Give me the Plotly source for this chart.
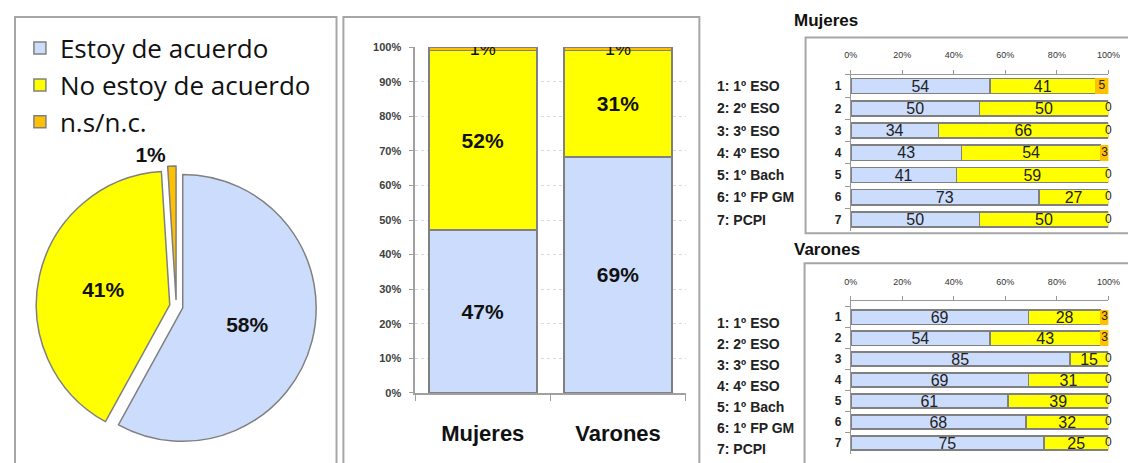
import plotly.graph_objects as go
import numpy as np

W, H = 1136, 463
OFF = 8  # page body margin offset

# ---------------- data ----------------
pie_labels = ["Estoy de acuerdo", "No estoy de acuerdo", "n.s/n.c."]
pie_values = [58, 41, 1]

sex_cats = ["Mujeres", "Varones"]
sex_acuerdo = [47, 69]
sex_no = [52, 31]
sex_nsnc = [1, 1]

course_ids = ["1", "2", "3", "4", "5", "6", "7"]
course_names = ["1: 1º ESO", "2: 2º ESO", "3: 3º ESO", "4: 4º ESO",
                "5: 1º Bach", "6: 1º FP GM", "7: PCPI"]
muj_acuerdo = [54, 50, 34, 43, 41, 73, 50]
muj_no = [41, 50, 66, 54, 59, 27, 50]
muj_nsnc = [5, 0, 0, 3, 0, 0, 0]
var_acuerdo = [69, 54, 85, 69, 61, 68, 75]
var_no = [28, 43, 15, 31, 39, 32, 25]
var_nsnc = [3, 3, 0, 0, 0, 0, 0]

pct_ticks_10 = list(range(0, 101, 10))
pct_labels_10 = [f"{v}%" for v in pct_ticks_10]
pct_ticks_20 = list(range(0, 101, 20))
pct_labels_20 = [f"{v}%" for v in pct_ticks_20]

# ---------------- styles ----------------
BLUE = "#CBDCFC"
YELLOW = "#FFFF00"
ORANGE = "#FFC000"
EDGE = "#808080"
FRAME = "#A6A6A6"
FONT = "Liberation Sans"
colors = [BLUE, YELLOW, ORANGE]


def px(x):
    return (x - OFF) / W


def py(y):
    return 1 - (y - OFF) / H


fig = go.Figure()

# ---------------- pie ----------------
PULL = 0.05
pie_cx, pie_cy, pie_r = 172, 308, 137
half = pie_r * (1 + PULL)
fig.add_trace(go.Pie(
    labels=pie_labels, values=pie_values, sort=False,
    direction="clockwise", rotation=0,
    pull=[PULL, PULL, PULL],
    marker=dict(colors=colors, line=dict(color=EDGE, width=1.5)),
    texttemplate="%{value}%",
    textposition=["inside", "inside", "outside"],
    insidetextorientation="horizontal",
    textfont=dict(family=FONT, size=21, color="#111", weight="bold"),
    domain=dict(x=[px(pie_cx - half), px(pie_cx + half)],
                y=[py(pie_cy + half), py(pie_cy - half)]),
    hoverinfo="skip", showlegend=True,
))

# ---------------- middle stacked bars ----------------
mid_series = [sex_acuerdo, sex_no, sex_nsnc]
for i, vals in enumerate(mid_series):
    is_small = (i == 2)
    fig.add_trace(go.Bar(
        x=sex_cats, y=vals, xaxis="x", yaxis="y",
        width=0.8,
        marker=dict(color=colors[i], line=dict(color=EDGE, width=1.8)),
        text=[f"{v}%" for v in vals],
        textposition="inside", insidetextanchor="middle",
        constraintext="none", textangle=0,
        textfont=dict(family=FONT, size=18 if is_small else 21,
                      color="#111", weight="normal" if is_small else "bold"),
        showlegend=False, hoverinfo="skip",
    ))


# ---------------- right horizontal bars ----------------
def add_hbars(a, n, o, xa, ya):
    for i, vals in enumerate([a, n]):
        fig.add_trace(go.Bar(
            y=course_ids, x=vals, orientation="h", xaxis=xa, yaxis=ya,
            width=0.68,
            marker=dict(color=colors[i], line=dict(color=EDGE, width=1.5)),
            text=[str(v) for v in vals],
            textposition="inside", insidetextanchor="middle",
            constraintext="none", textangle=0,
            textfont=dict(family=FONT, size=16, color="#222"),
            showlegend=False, hoverinfo="skip",
        ))
    fig.add_trace(go.Bar(
        y=course_ids, x=o, orientation="h", xaxis=xa, yaxis=ya,
        width=0.68,
        marker=dict(color=ORANGE, line=dict(color=ORANGE, width=1)),
        showlegend=False, hoverinfo="skip",
    ))
    pos = np.array(a) + np.array(n) + np.array(o) / 2
    fig.add_trace(go.Scatter(
        y=course_ids, x=pos, mode="text", xaxis=xa, yaxis=ya,
        text=[str(v) for v in o], textposition="middle center",
        textfont=dict(family=FONT, size=12, color="#222"),
        cliponaxis=False, showlegend=False, hoverinfo="skip",
    ))


add_hbars(muj_acuerdo, muj_no, muj_nsnc, "x2", "y2")
add_hbars(var_acuerdo, var_no, var_nsnc, "x3", "y3")

# ---------------- axes ----------------
hx = dict(range=[0, 100], side="top", tickvals=pct_ticks_20,
          ticktext=pct_labels_20,
          showline=True, linecolor="#999", linewidth=1, ticks="outside",
          ticklen=4, tickcolor="#999", showgrid=False, zeroline=False,
          tickfont=dict(family=FONT, size=9, color="#333"),
          ticklabelstandoff=8, fixedrange=True)
hy = dict(type="category", categoryarray=course_ids, autorange="reversed",
          showline=True, linecolor="#999", linewidth=1, ticks="outside",
          tickson="boundaries", ticklen=5, tickcolor="#999",
          showgrid=False, zeroline=False,
          tickfont=dict(family=FONT, size=12, color="#222", weight="bold"),
          ticklabelstandoff=6, fixedrange=True)

fig.update_layout(
    width=W, height=H,
    margin=dict(l=0, r=0, t=0, b=0),
    paper_bgcolor="white", plot_bgcolor="white",
    barmode="stack", barnorm="percent",
    font=dict(family=FONT),
    xaxis=dict(domain=[px(415), px(690)], type="category",
               showline=True, linecolor="#A0A0A0", linewidth=1.5,
               ticks="outside", tickson="boundaries", ticklen=6,
               tickcolor="#A0A0A0", showgrid=False,
               tickfont=dict(family=FONT, size=22, color="#111",
                             weight="bold"),
               ticklabelstandoff=20, fixedrange=True),
    yaxis=dict(domain=[py(397), py(42)], range=[0, 100],
               tickvals=pct_ticks_10, ticktext=pct_labels_10,
               showline=True, linecolor="#A0A0A0", linewidth=1.5,
               ticks="outside", ticklen=4, tickcolor="#A0A0A0",
               showgrid=True, gridcolor="#D9D9D9", griddash="dot",
               zeroline=False,
               tickfont=dict(family=FONT, size=11, color="#404040",
                             weight="bold"),
               ticklabelstandoff=6, fixedrange=True),
    xaxis2=dict(hx, domain=[px(858), px(1120)], anchor="y2"),
    yaxis2=dict(hy, domain=[py(230.4), py(70.6)], anchor="x2"),
    xaxis3=dict(hx, domain=[px(858), px(1120)], anchor="y3"),
    yaxis3=dict(hy, domain=[py(459.2), py(302.8)], anchor="x3"),
    legend=dict(x=px(13), y=py(19), xanchor="left", yanchor="top",
                traceorder="normal",
                font=dict(family="Open Sans", size=26, color="#111"),
                bgcolor="rgba(0,0,0,0)", borderwidth=0),
    showlegend=True,
)

# ---------------- frames ----------------
frames = [(8, 11, 335, 480), (342, 11, 704, 480),
          (812, 32, 1150, 233), (811, 264, 1150, 480)]
for x0, y0, x1, y1 in frames:
    fig.add_shape(type="rect", xref="paper", yref="paper",
                  x0=px(x0), x1=px(x1), y0=py(y1), y1=py(y0),
                  line=dict(color=FRAME, width=2), fillcolor="rgba(0,0,0,0)",
                  layer="below")

# ---------------- titles & course names ----------------
for title, ty in [("Mujeres", 15), ("Varones", 250)]:
    fig.add_annotation(text=title, xref="paper", yref="paper",
                       x=px(798), y=py(ty), xanchor="left", yanchor="middle",
                       showarrow=False,
                       font=dict(family=FONT, size=17, color="#111",
                                 weight="bold"))

for ya, shift in [("y2", 0), ("y3", -6)]:
    for idx, name in enumerate(course_names):
        fig.add_annotation(text=name, xref="paper", yref=ya,
                           x=px(720), y=idx, xanchor="left",
                           yanchor="middle", yshift=shift, showarrow=False,
                           font=dict(family=FONT, size=14, color="#222",
                                     weight="bold"))

fig.write_html("out.html")
